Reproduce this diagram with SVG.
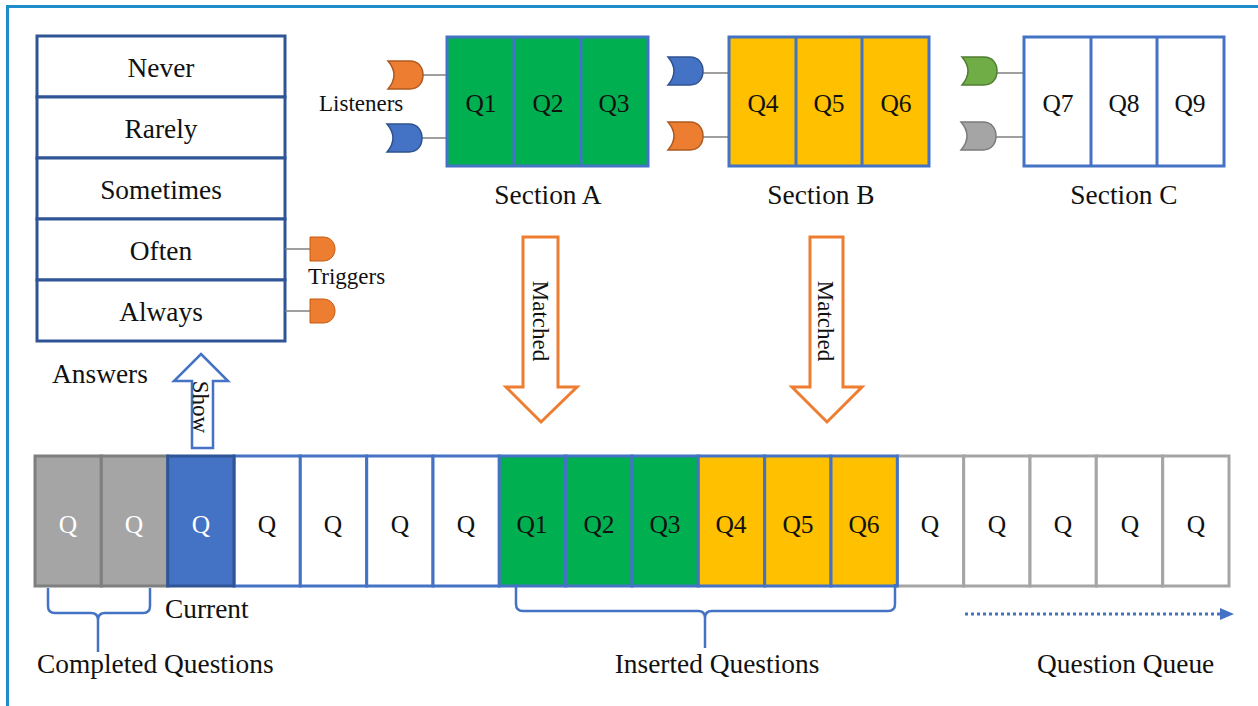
<svg xmlns="http://www.w3.org/2000/svg" width="1258" height="706" viewBox="0 0 1258 706" font-family="'Liberation Serif', 'DejaVu Serif', serif">
  <style>
    text { font-family: "Liberation Serif", "DejaVu Serif", serif; fill: #111; }
    .lbl { font-size: 27.4px; }
    .ans { font-size: 27.4px; text-anchor: middle; }
    .small { font-size: 23px; }
    .q { font-size: 25.5px; text-anchor: middle; }
    .qw { font-size: 25.5px; text-anchor: middle; fill: #fff; }
    .mid { text-anchor: middle; }
    .ansbox { fill: #fff; stroke: #2f5597; stroke-width: 3; }
    .sec { stroke: #4472c4; stroke-width: 3; }
    .wire { stroke: #7f7f7f; stroke-width: 1.5; fill: none; }
    .brace { fill: none; stroke: #4472c4; stroke-width: 2.5; stroke-linejoin: round; }
    .cellB { fill: #fff; stroke: #4472c4; stroke-width: 3; }
    .cellG { fill: #fff; stroke: #a5a5a5; stroke-width: 3; }
    .cellGreen { fill: #00b050; stroke: #4472c4; stroke-width: 3; }
    .cellYellow { fill: #ffc000; stroke: #4472c4; stroke-width: 3; }
    .cellDone { fill: #a5a5a5; stroke: #7f7f7f; stroke-width: 3; }
    .cellCur { fill: #4472c4; stroke: #2f5597; stroke-width: 3; }
  </style>
  <defs>
    <!-- listener plug: OR-gate-like cup, 35 wide x 28 high -->
    <path id="plug" d="M0,0 H22 C31,0 35,7 35,14 C35,21 31,28 22,28 H0 Q12,14 0,0 Z"/>
    <!-- trigger: plain D shape -->
    <path id="trig" d="M0,0 H13 C21,0 25,6 25,12 C25,18 21,24 13,24 H0 Z"/>
  </defs>

  <rect width="1258" height="706" fill="#fff"/>
  <!-- frame -->
  <path d="M7.5,706 V6.5 H1258" fill="none" stroke="#1f8ccc" stroke-width="3"/>

  <!-- answers list -->
  <g id="answers">
    <rect class="ansbox" x="37" y="36" width="248" height="61"/>
    <rect class="ansbox" x="37" y="97" width="248" height="61"/>
    <rect class="ansbox" x="37" y="158" width="248" height="61"/>
    <rect class="ansbox" x="37" y="219" width="248" height="61"/>
    <rect class="ansbox" x="37" y="280" width="248" height="61"/>
    <text class="ans" x="161" y="77">Never</text>
    <text class="ans" x="161" y="138">Rarely</text>
    <text class="ans" x="161" y="199">Sometimes</text>
    <text class="ans" x="161" y="260">Often</text>
    <text class="ans" x="161" y="321">Always</text>
    <text class="lbl" x="52" y="383">Answers</text>
  </g>

  <!-- triggers -->
  <g id="triggers">
    <line class="wire" x1="285" y1="249" x2="311" y2="249"/>
    <line class="wire" x1="285" y1="311" x2="311" y2="311"/>
    <use href="#trig" x="310" y="237" fill="#ed7d31" stroke="#c55a11" stroke-width="1"/>
    <use href="#trig" x="310" y="299" fill="#ed7d31" stroke="#c55a11" stroke-width="1"/>
    <text class="small" x="308" y="284">Triggers</text>
  </g>

  <!-- section A -->
  <g id="sectionA">
    <line class="wire" x1="422" y1="75" x2="447" y2="75"/>
    <line class="wire" x1="422" y1="138" x2="449" y2="138"/>
    <use href="#plug" x="388" y="61" fill="#ed7d31" stroke="#ae5a21" stroke-width="1.5"/>
    <use href="#plug" x="387" y="124" fill="#4472c4" stroke="#2f528f" stroke-width="1.5"/>
    <text class="small" x="319" y="111">Listeners</text>
    <rect x="447" y="37" width="201" height="129" fill="#00b050" class="sec"/>
    <line class="sec" x1="514" y1="37" x2="514" y2="166"/>
    <line class="sec" x1="581" y1="37" x2="581" y2="166"/>
    <text class="q" x="481" y="112">Q1</text>
    <text class="q" x="548" y="112">Q2</text>
    <text class="q" x="614" y="112">Q3</text>
    <text class="lbl mid" x="548" y="204">Section A</text>
  </g>

  <!-- section B -->
  <g id="sectionB">
    <line class="wire" x1="702" y1="73" x2="729" y2="73"/>
    <line class="wire" x1="702" y1="137" x2="729" y2="137"/>
    <use href="#plug" x="668" y="57" fill="#4472c4" stroke="#2f528f" stroke-width="1.5"/>
    <use href="#plug" x="668" y="122" fill="#ed7d31" stroke="#ae5a21" stroke-width="1.5"/>
    <rect x="729" y="37" width="200" height="129" fill="#ffc000" class="sec"/>
    <line class="sec" x1="796" y1="37" x2="796" y2="166"/>
    <line class="sec" x1="862" y1="37" x2="862" y2="166"/>
    <text class="q" x="763" y="112">Q4</text>
    <text class="q" x="829" y="112">Q5</text>
    <text class="q" x="896" y="112">Q6</text>
    <text class="lbl mid" x="821" y="204">Section B</text>
  </g>

  <!-- section C -->
  <g id="sectionC">
    <line class="wire" x1="996" y1="73" x2="1024" y2="73"/>
    <line class="wire" x1="996" y1="137" x2="1024" y2="137"/>
    <use href="#plug" x="962" y="57" fill="#70ad47" stroke="#507e32" stroke-width="1.5"/>
    <use href="#plug" x="961" y="122" fill="#a5a5a5" stroke="#7b7b7b" stroke-width="1.5"/>
    <rect x="1024" y="37" width="200" height="129" fill="#fff" class="sec"/>
    <line class="sec" x1="1091" y1="37" x2="1091" y2="166"/>
    <line class="sec" x1="1157" y1="37" x2="1157" y2="166"/>
    <text class="q" x="1058" y="112">Q7</text>
    <text class="q" x="1124" y="112">Q8</text>
    <text class="q" x="1190" y="112">Q9</text>
    <text class="lbl mid" x="1124" y="204">Section C</text>
  </g>

  <!-- question queue -->
  <g id="queue">
    <rect class="cellB" x="234" y="456" width="66.3" height="130"/>
    <rect class="cellB" x="300.3" y="456" width="66.4" height="130"/>
    <rect class="cellB" x="366.7" y="456" width="66.3" height="130"/>
    <rect class="cellB" x="433" y="456" width="66.3" height="130"/>
    <rect class="cellG" x="897.3" y="456" width="66.4" height="130"/>
    <rect class="cellG" x="963.7" y="456" width="66.3" height="130"/>
    <rect class="cellG" x="1030" y="456" width="66.3" height="130"/>
    <rect class="cellG" x="1096.3" y="456" width="66.4" height="130"/>
    <rect class="cellG" x="1162.7" y="456" width="66.3" height="130"/>
    <rect class="cellGreen" x="499.3" y="456" width="66.4" height="130"/>
    <rect class="cellGreen" x="565.7" y="456" width="66.3" height="130"/>
    <rect class="cellGreen" x="632" y="456" width="66.3" height="130"/>
    <rect class="cellYellow" x="698.3" y="456" width="66.4" height="130"/>
    <rect class="cellYellow" x="764.7" y="456" width="66.3" height="130"/>
    <rect class="cellYellow" x="831" y="456" width="66.3" height="130"/>
    <rect class="cellDone" x="35" y="456" width="66.3" height="130"/>
    <rect class="cellDone" x="101.3" y="456" width="66.4" height="130"/>
    <rect class="cellCur" x="167.7" y="456" width="66.3" height="130"/>
    <text class="qw" x="68" y="533">Q</text>
    <text class="qw" x="134" y="533">Q</text>
    <text class="qw" x="201" y="533">Q</text>
    <text class="q" x="267" y="533">Q</text>
    <text class="q" x="333" y="533">Q</text>
    <text class="q" x="400" y="533">Q</text>
    <text class="q" x="466" y="533">Q</text>
    <text class="q" x="532" y="533">Q1</text>
    <text class="q" x="599" y="533">Q2</text>
    <text class="q" x="665" y="533">Q3</text>
    <text class="q" x="731" y="533">Q4</text>
    <text class="q" x="798" y="533">Q5</text>
    <text class="q" x="864" y="533">Q6</text>
    <text class="q" x="930" y="533">Q</text>
    <text class="q" x="997" y="533">Q</text>
    <text class="q" x="1063" y="533">Q</text>
    <text class="q" x="1130" y="533">Q</text>
    <text class="q" x="1196" y="533">Q</text>
    <text class="lbl" x="165" y="618">Current</text>
  </g>

  <!-- connectors: block arrows, braces, queue direction -->
  <g id="connectors">
    <polygon points="201,354 228,381 213,381 213,448 192,448 192,381 174,381" fill="#fff" stroke="#4472c4" stroke-width="2.5"/>
    <text class="small mid" transform="translate(193,407) rotate(90)">Show</text>

    <polygon points="523,237 558,237 558,387 577,387 541,422 506,387 523,387" fill="#fff" stroke="#ed7d31" stroke-width="3"/>
    <text class="mid" style="font-size:23px" transform="translate(533,321) rotate(90)">Matched</text>

    <polygon points="810,237 843,237 843,387 862,387 827,422 792,387 810,387" fill="#fff" stroke="#ed7d31" stroke-width="3"/>
    <text class="mid" style="font-size:23px" transform="translate(818,321) rotate(90)">Matched</text>

    <path class="brace" d="M48,588 V606 Q48,613 55,613 H91 Q98,613 98,620 V652 M98,620 Q98,613 105,613 H143 Q150,613 150,606 V588"/>
    <text class="lbl" x="37" y="673">Completed Questions</text>

    <path class="brace" d="M516,584 V604 Q516,611 523,611 H698 Q705,611 705,618 V648 M705,618 Q705,611 712,611 H888 Q895,611 895,604 V584"/>
    <text class="lbl mid" x="717" y="673">Inserted Questions</text>

    <line x1="965" y1="614" x2="1222" y2="614" stroke="#4472c4" stroke-width="3" stroke-dasharray="3 3"/>
    <polygon points="1220,608 1234,614 1220,620" fill="#4472c4"/>
    <text class="lbl" x="1037" y="673">Question Queue</text>
  </g>
</svg>
